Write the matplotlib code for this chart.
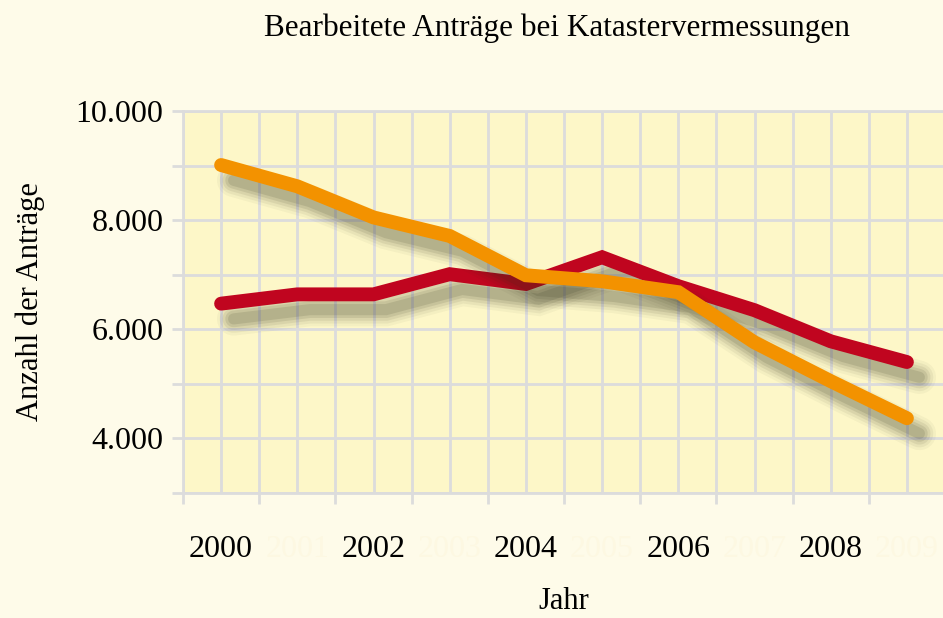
import numpy as np
import matplotlib.pyplot as plt
import matplotlib.patheffects as pe

years = ['2000', '2001', '2002', '2003', '2004', '2005', '2006', '2007', '2008', '2009']
red_vals = [6470, 6640, 6640, 7010, 6830, 7320, 6790, 6350, 5780, 5400]
orange_vals = [9010, 8620, 8050, 7710, 6990, 6880, 6680, 5760, 5050, 4370]
y_labels = ['4.000', '6.000', '8.000', '10.000']
y_label_pos = [4000, 6000, 8000, 10000]

plt.rcParams['font.family'] = ['Liberation Serif', 'DejaVu Serif']

bg = '#fefbe9'
grid_c = '#dcdcdc'

fig = plt.figure(figsize=(9.43, 6.18), dpi=100, facecolor=bg)
ax = fig.add_axes([183/943, 125/618, (945-183)/943, (493-111)/618])
ax.set_facecolor('#fdf7c8')

x = np.arange(len(years))


def shadow():
    fx = []
    for lw, a in [(24, 0.04), (20, 0.06), (16, 0.08), (12, 0.10), (8, 0.12)]:
        fx.append(pe.SimpleLineShadow(offset=(9, -11), shadow_color='#30301a', alpha=a, linewidth=lw))
    fx.append(pe.Normal())
    return fx


ax.plot(x, red_vals, color='#c0051f', lw=10, solid_capstyle='round', solid_joinstyle='miter',
        path_effects=shadow(), zorder=3)
ax.plot(x, orange_vals, color='#f39200', lw=10, solid_capstyle='round', solid_joinstyle='miter',
        path_effects=shadow(), zorder=4)

ax.set_xlim(-0.5, 9.5)
ax.set_ylim(3000, 10000)

ax.set_xticks(x)
ax.set_xticklabels(years, fontsize=23)
for i, lab in enumerate(ax.get_xticklabels()):
    if i % 2 == 1:
        lab.set_color('#fdf8e2')
ax.set_xticks(np.arange(-0.5, 10, 1), minor=True)
ax.tick_params(axis='x', which='major', length=0, pad=30)
ax.tick_params(axis='x', which='minor', length=8, width=2, color=grid_c)

ax.set_yticks(y_label_pos)
ax.set_yticklabels(y_labels, fontsize=23)
ax.set_yticks([3000, 5000, 7000, 9000], minor=True)
ax.tick_params(axis='y', which='both', length=8, width=2, color=grid_c, pad=6)

ax.grid(which='both', color=grid_c, lw=2)
ax.set_axisbelow(True)
for s in ax.spines.values():
    s.set_color(grid_c)
    s.set_linewidth(2)

ax.set_xlabel('Jahr', fontsize=22, labelpad=17)
ax.set_ylabel('Anzahl der Anträge', fontsize=22, labelpad=22)
fig.text(557/943, 1 - 28/618, 'Bearbeitete Anträge bei Katastervermessungen',
         fontsize=22.5, ha='center', va='center')

fig.savefig('out.png', dpi=100, facecolor=bg)
